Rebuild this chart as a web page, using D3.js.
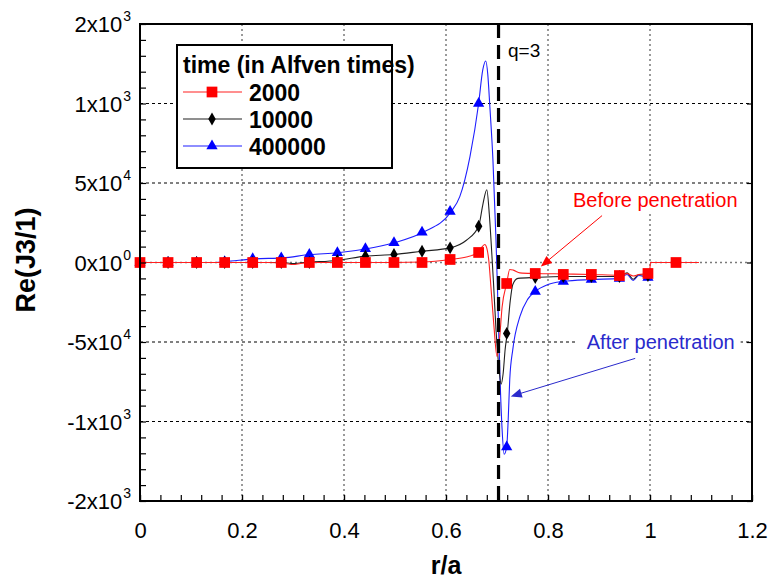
<!DOCTYPE html>
<html>
<head>
<meta charset="utf-8">
<script src="https://cdn.jsdelivr.net/npm/d3@7"></script>
<style>
  html, body { margin: 0; padding: 0; background: #fff; }
  svg { display: block; font-family: "Liberation Sans", Arial, sans-serif; }
</style>
</head>
<body>
<svg id="chart" width="775" height="579"></svg>
<script>
// ---------------- DATA ----------------
const xTicks = [0, 0.2, 0.4, 0.6, 0.8, 1, 1.2];
const xTickLabels = ["0", "0.2", "0.4", "0.6", "0.8", "1", "1.2"];
const yTicks = [150000, 100000, 50000, 0, -50000, -100000, -150000];
const yTickBase = ["2x10", "1x10", "5x10", "0x10", "-5x10", "-1x10", "-2x10"];
const yTickExp = ["3", "3", "4", "0", "4", "3", "3"];

const seriesNames = ["2000", "10000", "400000"];
const seriesColors = ["#ff2020", "#202020", "#1e1eff"];
const markerColors = ["#ff0000", "#000000", "#0000ff"];

// marker positions (r/a)
const markerR = [0, 0.055, 0.111, 0.166, 0.221, 0.277, 0.332, 0.387, 0.442, 0.498,
                 0.553, 0.608, 0.664, 0.719, 0.775, 0.830, 0.885, 0.940, 0.996, 1.051];
const markers2000   = [0, 0, 0, 0, 0, 0, 0, 0, 0, 0, 0, 1900, 6300, -13200, -6900, -7500, -7500, -8200, -6900, 0];
const markers10000  = [0, 0, 0, 0, 0, 0, 0, 1300, 4000, 5000, 7100, 9200, 22800, -44600, -9400, -8800, -8800, -8800, -8200];
const markers400000 = [0, 0, 0, 500, 2300, 2900, 5000, 6100, 8600, 12400, 19000, 32000, 100000, -116000, -18200, -11900, -10700, -10000, -9400];

// curves [r/a, value]
const line2000 = [[0,0],[0.25,0],[0.285,-600],[0.30,-1300],[0.315,-600],[0.34,0],[0.50,0],[0.553,300],
  [0.608,1900],[0.64,3500],[0.664,6300],[0.670,9500],[0.676,11300],[0.680,9000],[0.684,1000],
  [0.688,-15000],[0.694,-40000],[0.700,-59000],[0.705,-48000],[0.710,-28000],[0.719,-13200],
  [0.725,-4400],[0.732,-4800],[0.745,-6500],[0.775,-6900],[0.83,-7200],[0.885,-7500],[0.94,-8000],
  [0.955,-7000],[0.967,-8500],[0.978,-7500],[0.996,-6900],[0.999,-6500],[1.001,0],[1.051,0],[1.096,0]];
const line10000 = [[0,0],[0.28,0],[0.30,-700],[0.32,0],[0.387,1300],[0.442,4000],[0.498,5000],
  [0.553,7100],[0.608,9200],[0.64,14000],[0.664,22800],[0.672,36000],[0.680,45800],[0.685,30000],
  [0.689,10000],[0.693,-12000],[0.698,-42000],[0.704,-67000],[0.708,-76500],[0.712,-70000],
  [0.716,-54600],[0.720,-44600],[0.726,-24000],[0.731,-13800],[0.741,-10000],[0.775,-9400],
  [0.83,-8800],[0.94,-8800],[0.955,-6500],[0.967,-10500],[0.978,-7500],[0.996,-8200],[1.0,-8200]];
const line400000 = [[0,0],[0.14,0],[0.166,500],[0.225,2300],[0.280,2900],[0.333,5000],[0.388,6100],
  [0.445,8600],[0.498,12400],[0.555,19000],[0.61,32000],[0.627,41400],[0.647,66600],[0.664,100000],
  [0.672,121000],[0.678,126700],[0.682,118000],[0.686,98000],[0.692,64700],[0.698,14400],
  [0.701,-17000],[0.706,-73500],[0.710,-105000],[0.714,-120600],[0.719,-116000],[0.722,-98600],
  [0.725,-73500],[0.731,-54600],[0.745,-33900],[0.760,-23200],[0.775,-18200],[0.80,-13800],
  [0.83,-11900],[0.885,-10700],[0.94,-10000],[0.955,-7500],[0.967,-11300],[0.978,-8200],
  [0.996,-9400],[1.0,-9400]];

const qLineR = 0.703;
const qLabel = {text: "q=3", r: 0.7216, v: 129400};
const annotations = [
  {text: "Before penetration", color: "#ff0000", r: 0.849, v: 35200, fromR: 0.906, fromV: 29500, toR: 0.786, toV: -2500},
  {text: "After penetration", color: "#2a2acc", r: 0.876, v: -54600, fromR: 0.971, fromV: -60300, toR: 0.727, toV: -84200}
];
const legendTitle = "time (in Alfven times)";
const xTitle = "r/a";
const yTitle = "Re(J3/1)";

// ---------------- CHART ----------------
const svg = d3.select("#chart");
const L = 140, R = 752, T = 24, B = 501;
const x = d3.scaleLinear().domain([0, 1.2]).range([L, R]);
const y = d3.scaleLinear().domain([-150000, 150000]).range([B, T]);

// grid
const grid = svg.append("g");
grid.selectAll("line.v").data(xTicks.filter(d => d > 0 && d < 1.2)).join("line")
  .attr("x1", d => x(d)).attr("x2", d => x(d)).attr("y1", T).attr("y2", B)
  .attr("stroke", "#7a7a7a").attr("stroke-width", 1.5).attr("stroke-dasharray", "2,3");
grid.selectAll("line.h").data(yTicks.filter(d => d !== 0 && Math.abs(d) < 150000)).join("line")
  .attr("x1", L).attr("x2", R).attr("y1", d => y(d)).attr("y2", d => y(d))
  .attr("stroke", "#000").attr("stroke-width", 1).attr("stroke-dasharray", "3,3");
grid.append("line").attr("x1", L).attr("x2", R).attr("y1", y(0)).attr("y2", y(0))
  .attr("stroke", "#7a7a7a").attr("stroke-width", 1.5).attr("stroke-dasharray", "2,3");

// annotation text backgrounds
const ann = svg.append("g");
annotations.forEach(a => {
  const t = ann.append("text").attr("x", x(a.r)).attr("y", y(a.v))
    .attr("font-size", 20).attr("fill", a.color).text(a.text);
  const bb = t.node().getBBox();
  ann.insert("rect", "text").attr("x", bb.x - 10).attr("y", bb.y - 2)
    .attr("width", bb.width + 16).attr("height", bb.height + 4).attr("fill", "#fff");
});

// series
const lineGen = d3.line().x(d => x(d[0])).y(d => y(d[1])).curve(d3.curveMonotoneX);
const lines = [line2000, line10000, line400000];
const markerSets = [markers2000, markers10000, markers400000];
const symbols = [d3.symbolSquare, d3.symbolDiamond, d3.symbolTriangle];
const symSizes = [115, 48, 55];
const order = [2, 1, 0];
order.forEach(i => {
  const g = svg.append("g");
  g.append("path").datum(lines[i]).attr("d", lineGen)
    .attr("fill", "none").attr("stroke", seriesColors[i]).attr("stroke-width", 1.1);
  g.selectAll("path.m").data(markerSets[i]).join("path").attr("class", "m")
    .attr("transform", (d, k) => `translate(${x(markerR[k])},${y(d)})`)
    .attr("d", d3.symbol().type(symbols[i]).size(symSizes[i]))
    .attr("fill", markerColors[i]);
});

// q=3 line
svg.append("line").attr("x1", x(qLineR)).attr("x2", x(qLineR)).attr("y1", T).attr("y2", B)
  .attr("stroke", "#000").attr("stroke-width", 3.2).attr("stroke-dasharray", "14,7");
svg.append("text").attr("x", x(qLabel.r)).attr("y", y(qLabel.v)).attr("font-size", 19).text(qLabel.text);

// arrows
annotations.forEach(a => {
  const x1 = x(a.fromR), y1 = y(a.fromV), x2 = x(a.toR), y2 = y(a.toV);
  const ang = Math.atan2(y2 - y1, x2 - x1);
  const len = 11, w = 4.5;
  svg.append("line").attr("x1", x1).attr("y1", y1).attr("x2", x2 - Math.cos(ang) * 6).attr("y2", y2 - Math.sin(ang) * 6)
    .attr("stroke", a.color).attr("stroke-width", 1);
  const bx = x2 - Math.cos(ang) * len, by = y2 - Math.sin(ang) * len;
  const px = -Math.sin(ang) * w, py = Math.cos(ang) * w;
  svg.append("path").attr("d", `M${x2},${y2}L${bx + px},${by + py}L${bx - px},${by - py}Z`).attr("fill", a.color);
});

// legend
const lg = svg.append("g");
lg.append("rect").attr("x", 177).attr("y", 45).attr("width", 215).attr("height", 123)
  .attr("fill", "#fff").attr("stroke", "#000").attr("stroke-width", 2);
lg.append("text").attr("x", 183).attr("y", 73).attr("font-size", 23).attr("font-weight", "bold").text(legendTitle);
seriesNames.forEach((name, i) => {
  const cy = 92 + i * 27;
  lg.append("line").attr("x1", 183).attr("x2", 242).attr("y1", cy).attr("y2", cy)
    .attr("stroke", seriesColors[i]).attr("stroke-width", 1.1);
  lg.append("path").attr("transform", `translate(212,${cy})`)
    .attr("d", d3.symbol().type(symbols[i]).size(symSizes[i])).attr("fill", markerColors[i]);
  lg.append("text").attr("x", 249).attr("y", cy + 9).attr("font-size", 23).attr("font-weight", "bold").text(name);
});

// axes
const xMinor = d3.range(0, 1.2001, 0.04);
const yMinor = d3.range(-150000, 150001, 10000);
svg.append("g").attr("transform", `translate(0,${B})`)
  .call(d3.axisBottom(x).tickValues(xMinor).tickSize(-6).tickFormat(""))
  .call(g => g.select(".domain").remove());
svg.append("g").attr("transform", `translate(0,${B})`)
  .call(d3.axisBottom(x).tickValues(xTicks).tickSize(-6).tickPadding(21)
    .tickFormat((d, i) => xTickLabels[i]))
  .call(g => g.select(".domain").remove())
  .call(g => g.selectAll("text").attr("font-size", 22).attr("fill", "#000").attr("font-family", "Liberation Sans, Arial, sans-serif"));
svg.append("g").attr("transform", `translate(${L},0)`)
  .call(d3.axisLeft(y).tickValues(yMinor).tickSize(-6).tickFormat(""))
  .call(g => g.select(".domain").remove());
svg.append("g").attr("transform", `translate(${R},0)`)
  .call(d3.axisRight(y).tickValues(yTicks).tickSize(-5).tickFormat(""))
  .call(g => g.select(".domain").remove());
svg.selectAll(".tick line").attr("stroke", "#000").attr("stroke-width", 1.2);

// y tick labels with exponents
const yl = svg.append("g");
yTicks.forEach((v, i) => {
  const t = yl.append("text").attr("x", 131).attr("y", y(v) + 8).attr("text-anchor", "end").attr("font-size", 22);
  t.append("tspan").text(yTickBase[i]);
  t.append("tspan").attr("dx", 1).attr("dy", -11).attr("font-size", 14).text(yTickExp[i]);
});

// frame
svg.append("rect").attr("x", L).attr("y", T).attr("width", R - L).attr("height", B - T)
  .attr("fill", "none").attr("stroke", "#000").attr("stroke-width", 2);

// titles
svg.append("text").attr("x", 446).attr("y", 574).attr("text-anchor", "middle")
  .attr("font-size", 25).attr("font-weight", "bold").text(xTitle);
svg.append("text").attr("transform", "translate(35,260) rotate(-90)").attr("text-anchor", "middle")
  .attr("font-size", 27).attr("font-weight", "bold").text(yTitle);
</script>
</body>
</html>
